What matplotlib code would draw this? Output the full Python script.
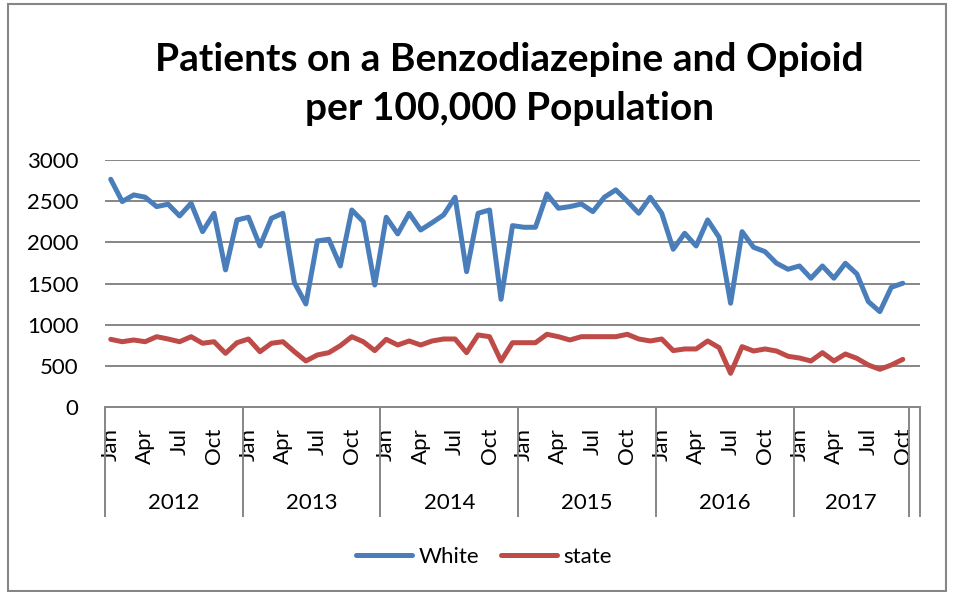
import numpy as np
import matplotlib
matplotlib.use("Agg")
from matplotlib import pyplot as plt
from matplotlib.patches import Rectangle
import matplotlib.transforms as mtransforms

# monthly values, Jan 2012 .. Oct 2017
white = [2766, 2495, 2576, 2548, 2434, 2463, 2321, 2475, 2130, 2353, 1665, 2272,
         2305, 1956, 2292, 2353, 1510, 1251, 2017, 2037, 1713, 2393, 2251, 1482,
         2305, 2102, 2353, 2150, 2239, 2333, 2548, 1644, 2353, 2393, 1308, 2203,
         2183, 2183, 2588, 2414, 2434, 2466, 2373, 2548, 2637, 2500, 2353, 2548,
         2353, 1916, 2110, 1956, 2272, 2061, 1260, 2130, 1940, 1887, 1746, 1673,
         1713, 1564, 1713, 1564, 1746, 1616, 1280, 1158, 1454, 1503]
state = [822, 793, 814, 793, 854, 826, 793, 854, 774, 793, 652, 781,
         826, 672, 774, 793, 672, 559, 632, 660, 745, 854, 793, 685,
         822, 753, 802, 753, 802, 826, 826, 660, 875, 854, 559, 781,
         781, 781, 883, 854, 814, 854, 854, 854, 854, 883, 826, 802,
         826, 685, 705, 705, 802, 721, 409, 733, 680, 705, 680, 616,
         595, 559, 660, 559, 644, 591, 510, 458, 510, 579]

months = ['Jan', 'Feb', 'Mar', 'Apr', 'May', 'Jun',
          'Jul', 'Aug', 'Sep', 'Oct', 'Nov', 'Dec']
years = ['2012', '2013', '2014', '2015', '2016', '2017']
n_cats = 71  # excel left one empty category at the end
yticks = [0, 500, 1000, 1500, 2000, 2500, 3000]

blue = '#4A7EBB'
red = '#BE4B48'
grey = '#868686'

plt.rcParams['font.family'] = ['Lato', 'DejaVu Sans']

W, H = 955, 592
fig = plt.figure(figsize=(W / 100, H / 100), dpi=100)
fig.patch.set_facecolor('white')

# outer chart border
fig.patches.append(Rectangle((8 / W, 1 - 591 / H), 938 / W, 587 / H,
                             transform=fig.transFigure, fill=False,
                             edgecolor=grey, lw=1.5))

ax = fig.add_axes([105 / W, 1 - 407 / H, 815 / W, 247 / H])

x = np.arange(len(white)) + 0.5
ax.plot(x, white, color=blue, lw=3.6, solid_joinstyle='round',
        solid_capstyle='round', label='White', zorder=3)
ax.plot(x, state, color=red, lw=3.6, solid_joinstyle='round',
        solid_capstyle='round', label='state', zorder=3)

ax.set_xlim(0, n_cats)
ax.set_ylim(0, 3000)
ax.set_yticks(yticks)
ax.yaxis.grid(True, color=grey, lw=1.4)
ax.set_axisbelow(True)
ax.tick_params(axis='y', length=0, pad=19, labelsize=16)

for s in ['top', 'right', 'left']:
    ax.spines[s].set_visible(False)
ax.spines['bottom'].set_color(grey)
ax.spines['bottom'].set_linewidth(1.4)

# month labels every quarter
idx = list(range(0, len(white), 3))
ax.set_xticks([i + 0.5 for i in idx])
ax.set_xticklabels([months[i % 12] for i in idx], rotation=90,
                   va='top', ha='center')
ax.tick_params(axis='x', which='major', length=0, pad=15, labelsize=16)

# year group separators as long minor ticks
bounds = [0, 12, 24, 36, 48, 60, 70, 71]
ax.set_xticks(bounds, minor=True)
ax.tick_params(axis='x', which='minor', length=79, width=1.4, color=grey)

trans = mtransforms.blended_transform_factory(ax.transData, ax.transAxes)
for k, yr in enumerate(years):
    lo, hi = bounds[k], bounds[k + 1]
    ax.text((lo + hi) / 2, -0.389, yr, transform=trans, ha='center',
            va='center', fontsize=16)

fig.text(509 / W, 1 - 84 / H,
         'Patients on a Benzodiazepine and Opioid\nper 100,000 Population',
         ha='center', va='center', fontsize=28, fontweight='bold',
         linespacing=1.45)

fig.legend(loc='center', bbox_to_anchor=(484 / W, 1 - 557 / H), ncol=2,
           frameon=False, fontsize=16, handlelength=2.5, handletextpad=0.3,
           columnspacing=1.0)

fig.savefig('out.png', dpi=100)
